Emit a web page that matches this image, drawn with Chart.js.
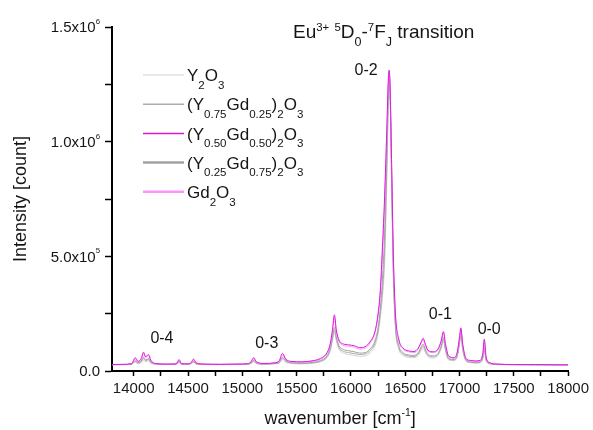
<!DOCTYPE html>
<html>
<head>
<meta charset="utf-8">
<script src="https://cdn.jsdelivr.net/npm/chart.js@4.4.1/dist/chart.umd.min.js"></script>
<style>
  html, body { margin: 0; padding: 0; background: #fff; }
  #wrap { position: relative; width: 593px; height: 430px; }
</style>
</head>
<body>
<div id="wrap"><canvas id="spectrum"></canvas></div>
<script>
// wavenumber grid [cm-1] shared by all spectra
const wavenumber = [
  13800, 13900, 13980, 14015, 14040, 14070, 14090, 14110, 14135, 14160,
  14200, 14300, 14390, 14418, 14440, 14500, 14530, 14550, 14575, 14650,
  14800, 14950, 15050, 15080, 15105, 15130, 15200, 15300, 15340, 15370,
  15400, 15450, 15550, 15650, 15720, 15780, 15810, 15830, 15848, 15865,
  15890, 15930, 15980, 16030, 16080, 16130, 16180, 16220, 16250, 16270,
  16290, 16310, 16330, 16345, 16352, 16360, 16375, 16390, 16410, 16440,
  16480, 16530, 16580, 16620, 16650, 16665, 16680, 16710, 16760, 16800,
  16830, 16852, 16870, 16900, 16950, 16980, 17000, 17012, 17030, 17060,
  17100, 17150, 17190, 17215, 17228, 17245, 17280, 17350, 17500, 17700,
  17900, 18000
];

// intensities in thousands of counts
const y2o3 = [
  27, 28, 29, 38, 32, 37, 48, 40, 44, 33,
  30, 29, 29, 37, 29, 29, 32, 37, 30, 28,
  28, 28, 29, 33, 40, 32, 30, 31, 34, 50,
  38, 33, 31, 34, 40, 58, 88, 132, 168, 132,
  95, 78, 72, 68, 64, 66, 80, 108, 160, 230,
  320, 470, 820, 1180, 1275, 1210, 800, 420, 180, 96,
  68, 60, 58, 68, 92, 100, 86, 62, 56, 66,
  94, 130, 88, 48, 45, 64, 116, 152, 88, 42,
  36, 34, 36, 54, 88, 44, 31, 28, 27, 27,
  27, 26
];
const y75gd25 = [
  28, 28, 30, 42, 34, 41, 55, 45, 50, 36,
  31, 29, 30, 40, 30, 30, 33, 40, 31, 29,
  28, 29, 30, 34, 44, 34, 30, 32, 36, 56,
  42, 35, 33, 36, 43, 62, 95, 142, 180, 142,
  102, 86, 80, 76, 72, 74, 90, 120, 175, 250,
  350, 520, 880, 1200, 1280, 1220, 830, 440, 195, 104,
  74, 65, 63, 74, 100, 110, 94, 68, 62, 72,
  102, 140, 95, 52, 48, 68, 124, 162, 95, 46,
  38, 36, 38, 58, 96, 47, 32, 29, 28, 27,
  27, 27
];
const y50gd50 = [
  28, 29, 32, 58, 42, 55, 82, 62, 72, 45,
  33, 30, 31, 50, 32, 31, 38, 52, 36, 30,
  29, 30, 32, 40, 58, 40, 33, 36, 45, 77,
  52, 42, 40, 45, 55, 80, 120, 180, 245, 180,
  135, 118, 114, 110, 102, 106, 130, 170, 250, 350,
  540, 760, 1050, 1280, 1312, 1250, 900, 520, 250, 140,
  100, 88, 85, 100, 130, 143, 125, 90, 84, 95,
  130, 172, 120, 65, 58, 85, 150, 188, 115, 55,
  46, 44, 46, 80, 139, 60, 36, 30, 28, 28,
  27, 27
];
const y25gd75 = [
  28, 28, 30, 45, 36, 44, 60, 48, 54, 38,
  31, 29, 30, 42, 30, 30, 34, 42, 32, 29,
  29, 29, 30, 35, 46, 35, 31, 33, 38, 60,
  44, 37, 35, 38, 46, 66, 100, 150, 190, 150,
  110, 94, 88, 84, 78, 80, 98, 130, 190, 270,
  400, 600, 950, 1230, 1290, 1230, 850, 460, 210, 112,
  80, 70, 68, 80, 108, 118, 100, 72, 66, 76,
  108, 148, 100, 55, 50, 72, 130, 170, 100, 48,
  40, 38, 40, 62, 105, 50, 33, 29, 28, 27,
  27, 27
];
const gd2o3 = [
  28, 29, 31, 52, 40, 50, 75, 58, 66, 42,
  32, 30, 31, 46, 31, 31, 36, 48, 34, 30,
  29, 30, 31, 38, 52, 38, 32, 35, 42, 70,
  48, 40, 38, 42, 52, 75, 112, 170, 232, 170,
  128, 112, 108, 104, 96, 100, 124, 165, 240, 330,
  500, 720, 1020, 1260, 1300, 1240, 880, 500, 240, 132,
  95, 84, 80, 95, 125, 136, 118, 85, 80, 90,
  124, 164, 114, 62, 55, 80, 142, 180, 110, 52,
  44, 42, 44, 75, 128, 56, 35, 30, 28, 28,
  27, 27
];

// legend names, written as runs: [text, 'sub' | 'sup' | undefined]
const seriesNames = [
  [['Y'], ['2', 'sub'], ['O'], ['3', 'sub']],
  [['(Y'], ['0.75', 'sub'], ['Gd'], ['0.25', 'sub'], [')'], ['2', 'sub'], ['O'], ['3', 'sub']],
  [['(Y'], ['0.50', 'sub'], ['Gd'], ['0.50', 'sub'], [')'], ['2', 'sub'], ['O'], ['3', 'sub']],
  [['(Y'], ['0.25', 'sub'], ['Gd'], ['0.75', 'sub'], [')'], ['2', 'sub'], ['O'], ['3', 'sub']],
  [['Gd'], ['2', 'sub'], ['O'], ['3', 'sub']]
];
const seriesValues = [y2o3, y75gd25, y50gd50, y25gd75, gd2o3];
const seriesColors = ['#d2d2d2', '#acacac', '#d81ad8', '#a2a2a2', '#ff94ff'];
const seriesWidths = [1, 1, 1, 1, 1];
const legendWidths = [1, 1.5, 1.5, 2.5, 2.5];
const seriesOrder = [4, 3, 0, 2, 1];

// transition bands marked above the spectra
const bandLabels = ['0-4', '0-3', '0-2', '0-1', '0-0'];
const bandX = [14260, 15225, 16140, 16824, 17273];
const bandY = [149000, 128000, 1316000, 254000, 189000];

// axis ticks
const xTicks = [14000, 14250, 14500, 14750, 15000, 15250, 15500, 15750, 16000,
  16250, 16500, 16750, 17000, 17250, 17500, 17750, 18000];
const yTicks = [0, 250000, 500000, 750000, 1000000, 1250000, 1500000];
const yLabelValues = [0, 500000, 1000000, 1500000];
const yLabelParts = [
  [['0.0']],
  [['5.0x10'], ['5', 'sup']],
  [['1.0x10'], ['6', 'sup']],
  [['1.5x10'], ['6', 'sup']]
];
const titleParts = [['Eu'], ['3+', 'sup'], [' '], ['5', 'sup'], ['D'], ['0', 'sub'], ['-'],
  ['7', 'sup'], ['F'], ['J', 'sub'], [' transition']];
const xTitleParts = [['wavenumber [cm'], ['-1', 'sup'], [']']];

const FONT = '"Liberation Sans", Arial, sans-serif';

function runSize(part, size, opt) {
  if (part[1] === 'sup') return size * opt.supScale;
  if (part[1] === 'sub') return size * opt.subScale;
  return size;
}

function drawRich(ctx, parts, x, y, size, align, options) {
  const opt = Object.assign({supScale: 0.6, supRise: 0.36, subScale: 0.66, subDrop: 0.42}, options || {});
  let width = 0;
  for (const p of parts) {
    ctx.font = runSize(p, size, opt) + 'px ' + FONT;
    width += ctx.measureText(p[0]).width;
  }
  let cx = x;
  if (align === 'right') cx = x - width;
  else if (align === 'center') cx = x - width / 2;
  ctx.textAlign = 'left';
  ctx.textBaseline = 'alphabetic';
  for (const p of parts) {
    ctx.font = runSize(p, size, opt) + 'px ' + FONT;
    let dy = 0;
    if (p[1] === 'sup') dy = -size * opt.supRise;
    if (p[1] === 'sub') dy = size * opt.subDrop;
    ctx.fillText(p[0], cx, y + dy);
    cx += ctx.measureText(p[0]).width;
  }
}

const decorations = {
  id: 'decorations',
  afterDraw(chart) {
    const ctx = chart.ctx;
    const xs = chart.scales.x;
    const ys = chart.scales.y;
    const area = chart.chartArea;
    ctx.save();
    ctx.fillStyle = '#151515';

    yLabelValues.forEach((v, i) => {
      drawRich(ctx, yLabelParts[i], area.left - 12, ys.getPixelForValue(v) + 5.4, 15, 'right',
        {supScale: 0.52, supRise: 0.55});
    });

    drawRich(ctx, xTitleParts, (area.left + area.right) / 2, 424, 18, 'center',
      {supScale: 0.58, supRise: 0.42});

    drawRich(ctx, titleParts, 293, 38, 19, 'left');

    bandLabels.forEach((t, i) => {
      drawRich(ctx, [[t]], xs.getPixelForValue(bandX[i]), ys.getPixelForValue(bandY[i]) + 6, 16, 'center');
    });

    // legend
    seriesNames.forEach((parts, i) => {
      const rowY = 75 + i * 29.2;
      ctx.strokeStyle = seriesColors[i];
      ctx.lineWidth = legendWidths[i];
      ctx.beginPath();
      ctx.moveTo(143, rowY);
      ctx.lineTo(184, rowY);
      ctx.stroke();
      ctx.fillStyle = '#151515';
      drawRich(ctx, parts, 187, rowY + 6.1, 17, 'left', {subScale: 0.68, subDrop: 0.45});
    });
    ctx.restore();
  }
};

const datasets = seriesValues.map((vals, i) => ({
  label: seriesNames[i].map(p => p[0]).join(''),
  data: wavenumber.map((w, j) => ({x: w, y: vals[j] * 1000})),
  borderColor: seriesColors[i],
  backgroundColor: seriesColors[i],
  borderWidth: seriesWidths[i],
  pointRadius: 0,
  cubicInterpolationMode: 'monotone',
  order: seriesOrder[i]
}));

new Chart(document.getElementById('spectrum').getContext('2d'), {
  type: 'line',
  data: {datasets: datasets},
  plugins: [decorations],
  options: {
    responsive: true,
    maintainAspectRatio: false,
    animation: false,
    layout: {padding: {top: 27, right: 22, bottom: 0, left: 0}},
    plugins: {legend: {display: false}, tooltip: {enabled: false}},
    scales: {
      x: {
        type: 'linear',
        min: 13800,
        max: 18000,
        afterBuildTicks: (scale) => { scale.ticks = xTicks.map(v => ({value: v})); },
        afterFit: (scale) => { scale.height = 59; },
        ticks: {
          autoSkip: false,
          maxRotation: 0,
          padding: 4,
          color: '#1a1a1a',
          font: {family: FONT, size: 15},
          callback: (v) => (v % 500 === 0 ? String(v) : '')
        },
        grid: {drawOnChartArea: false, drawTicks: true, tickLength: 5, tickColor: '#000', tickWidth: 1.5},
        border: {display: true, color: '#000', width: 2}
      },
      y: {
        type: 'linear',
        min: 0,
        max: 1500000,
        afterBuildTicks: (scale) => { scale.ticks = yTicks.map(v => ({value: v})); },
        afterFit: (scale) => { scale.width = 112; },
        ticks: {callback: () => ''},
        grid: {drawOnChartArea: false, drawTicks: true, tickLength: 7, tickColor: '#000', tickWidth: 1.5},
        border: {display: true, color: '#000', width: 2},
        title: {
          display: true,
          text: 'Intensity [count]',
          color: '#151515',
          font: {family: FONT, size: 18},
          padding: {top: 10, bottom: 0}
        }
      }
    }
  }
});
</script>
</body>
</html>
